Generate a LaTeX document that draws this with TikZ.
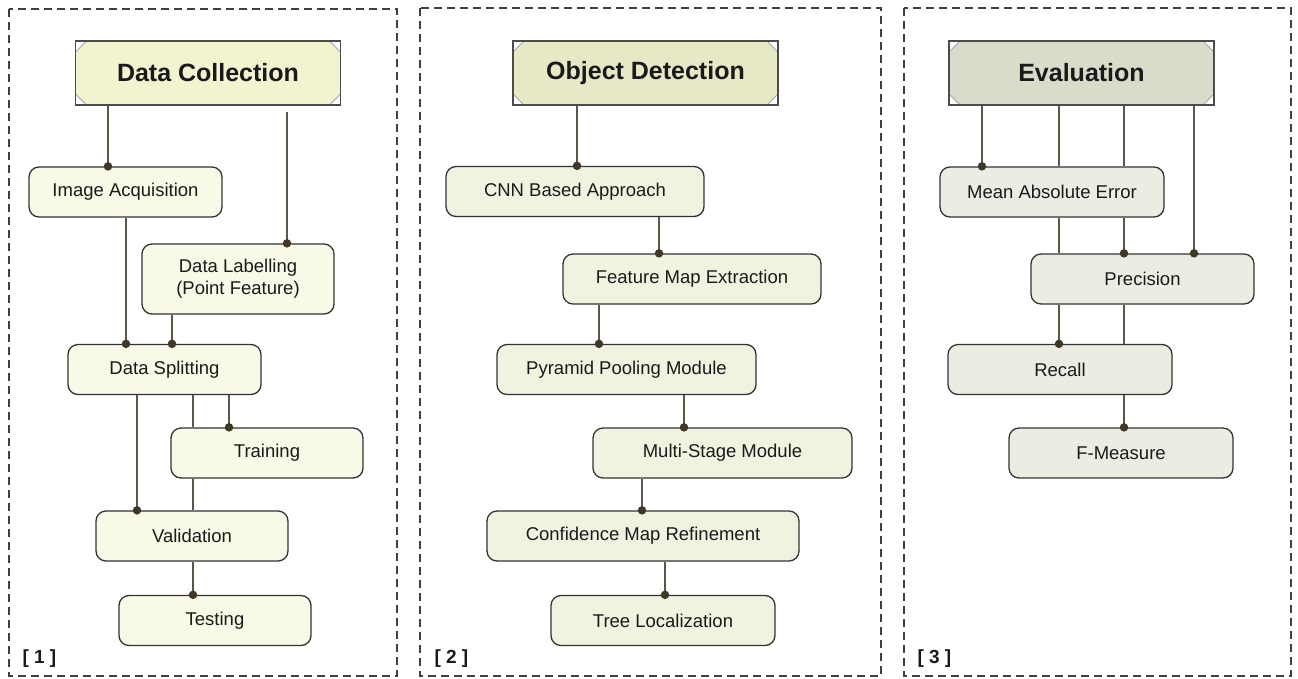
\documentclass[tikz,border=0pt]{standalone}
\usepackage{fontspec}
\setmainfont{Liberation Sans}
\definecolor{boxa}{HTML}{F8F9E6}
\definecolor{titlea}{HTML}{F2F3CF}
\definecolor{boxb}{HTML}{F1F3E1}
\definecolor{titleb}{HTML}{E6E8C6}
\definecolor{boxc}{HTML}{EBECE2}
\definecolor{titlec}{HTML}{D9DCCA}
\definecolor{linec}{HTML}{5E5646}
\definecolor{dotc}{HTML}{3F3826}
\definecolor{edgec}{HTML}{333333}
\definecolor{txt}{HTML}{1A1A1A}
\begin{document}
\begin{tikzpicture}[x=1pt,y=-1pt,
  panel/.style={draw=black!75, line width=1.1pt, dash pattern=on 8pt off 5pt},
  stepbox/.style={draw=edgec, line width=1.3pt, rounded corners=10pt, minimum height=50pt,
    inner sep=0pt, align=center, text=txt, font=\fontsize{18.5}{22}\selectfont},
  titlebox/.style={draw=black!70, line width=1.2pt, minimum height=64pt, minimum width=265pt,
    inner sep=0pt, text=txt, font=\fontsize{25}{28}\bfseries\selectfont,
    path picture={
      \fill[white] (path picture bounding box.north west) -- ++(11pt,0pt) -- ++(-11pt,-11pt) -- cycle;
      \draw[black!35, line width=0.8pt] (path picture bounding box.north west) ++(11pt,0pt) -- ++(-11pt,-11pt);
      \fill[white] (path picture bounding box.north east) -- ++(-11pt,0pt) -- ++(11pt,-11pt) -- cycle;
      \draw[black!35, line width=0.8pt] (path picture bounding box.north east) ++(-11pt,0pt) -- ++(11pt,-11pt);
      \fill[white] (path picture bounding box.south west) -- ++(11pt,0pt) -- ++(-11pt,11pt) -- cycle;
      \draw[black!35, line width=0.8pt] (path picture bounding box.south west) ++(11pt,0pt) -- ++(-11pt,11pt);
      \fill[white] (path picture bounding box.south east) -- ++(-11pt,0pt) -- ++(11pt,11pt) -- cycle;
      \draw[black!35, line width=0.8pt] (path picture bounding box.south east) ++(-11pt,0pt) -- ++(11pt,11pt);
    }},
  conn/.style={draw=linec, line width=1.4pt},
  dot/.style={circle, fill=dotc, inner sep=0pt, minimum size=8.5pt},
  plabel/.style={anchor=west, text=txt, font=\fontsize{19}{22}\bfseries\selectfont}
]
\useasboundingbox (0,0) rectangle (1298,678);

% panels
\draw[panel] (9,9) rectangle (397,676);
\draw[panel] (420,8) rectangle (881,676);
\draw[panel] (904,8) rectangle (1291,676);

% ---------- Panel 1 ----------
\node[titlebox, fill=titlea] (dc) at (208,73) {Data Collection};
\node[stepbox, fill=boxa, minimum width=193pt] (ia) at (125.5,192) {Image Acquisition};
\node[stepbox, fill=boxa, minimum width=192pt, minimum height=70pt] (dl) at (238,279) {Data Labelling\\(Point Feature)};
\node[stepbox, fill=boxa, minimum width=193pt] (ds) at (164.5,369.5) {Data Splitting};
\node[stepbox, fill=boxa, minimum width=192pt] (tr) at (267,453) {Training};
\node[stepbox, fill=boxa, minimum width=192pt] (va) at (192,536) {Validation};
\node[stepbox, fill=boxa, minimum width=192pt] (te) at (215,620.5) {Testing};
\node[plabel] (l1) at (19,659) {[ 1 ]};

\coordinate (c108) at (108,0);
\coordinate (c126) at (126,0);
\coordinate (c137) at (137,0);
\coordinate (c172) at (172,0);
\coordinate (c193) at (193,0);
\coordinate (c229) at (229,0);
\coordinate (dlfree) at (287,112);

\draw[conn] (dc.south -| c108) -- (ia.north -| c108) node[dot] {};
\draw[conn] (dlfree) -- (dl.north -| dlfree) node[dot] {};
\draw[conn] (ia.south -| c126) -- (ds.north -| c126) node[dot] {};
\draw[conn] (dl.south -| c172) -- (ds.north -| c172) node[dot] {};
\draw[conn] (ds.south -| c137) -- (va.north -| c137) node[dot] {};
\draw[conn] (ds.south -| c193) -- (tr.north -| c193);
\draw[conn] (tr.south -| c193) -- (va.north -| c193);
\draw[conn] (ds.south -| c229) -- (tr.north -| c229) node[dot] {};
\draw[conn] (va.south -| c193) -- (te.north -| c193) node[dot] {};

% ---------- Panel 2 ----------
\node[titlebox, fill=titleb] (od) at (645.5,73) {Object Detection};
\node[stepbox, fill=boxb, minimum width=258pt] (cnn) at (575,191.5) {CNN Based Approach};
\node[stepbox, fill=boxb, minimum width=258pt] (fme) at (692,279) {Feature Map Extraction};
\node[stepbox, fill=boxb, minimum width=259pt] (ppm) at (626.5,369.5) {Pyramid Pooling Module};
\node[stepbox, fill=boxb, minimum width=259pt] (msm) at (722.5,453) {Multi-Stage Module};
\node[stepbox, fill=boxb, minimum width=312pt] (cmr) at (643,536) {Confidence Map Refinement};
\node[stepbox, fill=boxb, minimum width=224pt] (tl) at (663,620.5) {Tree Localization};
\node[plabel] (l2) at (431,659) {[ 2 ]};

\coordinate (c577) at (577,0);
\coordinate (c659) at (659,0);
\coordinate (c599) at (599,0);
\coordinate (c684) at (684,0);
\coordinate (c642) at (642,0);
\coordinate (c665) at (665,0);

\draw[conn] (od.south -| c577) -- (cnn.north -| c577) node[dot] {};
\draw[conn] (cnn.south -| c659) -- (fme.north -| c659) node[dot] {};
\draw[conn] (fme.south -| c599) -- (ppm.north -| c599) node[dot] {};
\draw[conn] (ppm.south -| c684) -- (msm.north -| c684) node[dot] {};
\draw[conn] (msm.south -| c642) -- (cmr.north -| c642) node[dot] {};
\draw[conn] (cmr.south -| c665) -- (tl.north -| c665) node[dot] {};

% ---------- Panel 3 ----------
\node[titlebox, fill=titlec] (ev) at (1081.5,73) {Evaluation};
\node[stepbox, fill=boxc, minimum width=224pt] (mae) at (1052,192) {Mean Absolute Error};
\node[stepbox, fill=boxc, minimum width=223pt] (pr) at (1142.5,279) {Precision};
\node[stepbox, fill=boxc, minimum width=224pt] (re) at (1060,369.5) {Recall};
\node[stepbox, fill=boxc, minimum width=224pt] (fm) at (1121,453) {F-Measure};
\node[plabel] (l3) at (914,659) {[ 3 ]};

\coordinate (c982) at (982,0);
\coordinate (c1059) at (1059,0);
\coordinate (c1124) at (1124,0);
\coordinate (c1194) at (1194,0);

\draw[conn] (ev.south -| c982) -- (mae.north -| c982) node[dot] {};
\draw[conn] (ev.south -| c1059) -- (mae.north -| c1059);
\draw[conn] (mae.south -| c1059) -- (pr.north -| c1059);
\draw[conn] (pr.south -| c1059) -- (re.north -| c1059) node[dot] {};
\draw[conn] (ev.south -| c1124) -- (mae.north -| c1124);
\draw[conn] (mae.south -| c1124) -- (pr.north -| c1124) node[dot] {};
\draw[conn] (pr.south -| c1124) -- (re.north -| c1124);
\draw[conn] (re.south -| c1124) -- (fm.north -| c1124) node[dot] {};
\draw[conn] (ev.south -| c1194) -- (pr.north -| c1194) node[dot] {};
\end{tikzpicture}
\end{document}
